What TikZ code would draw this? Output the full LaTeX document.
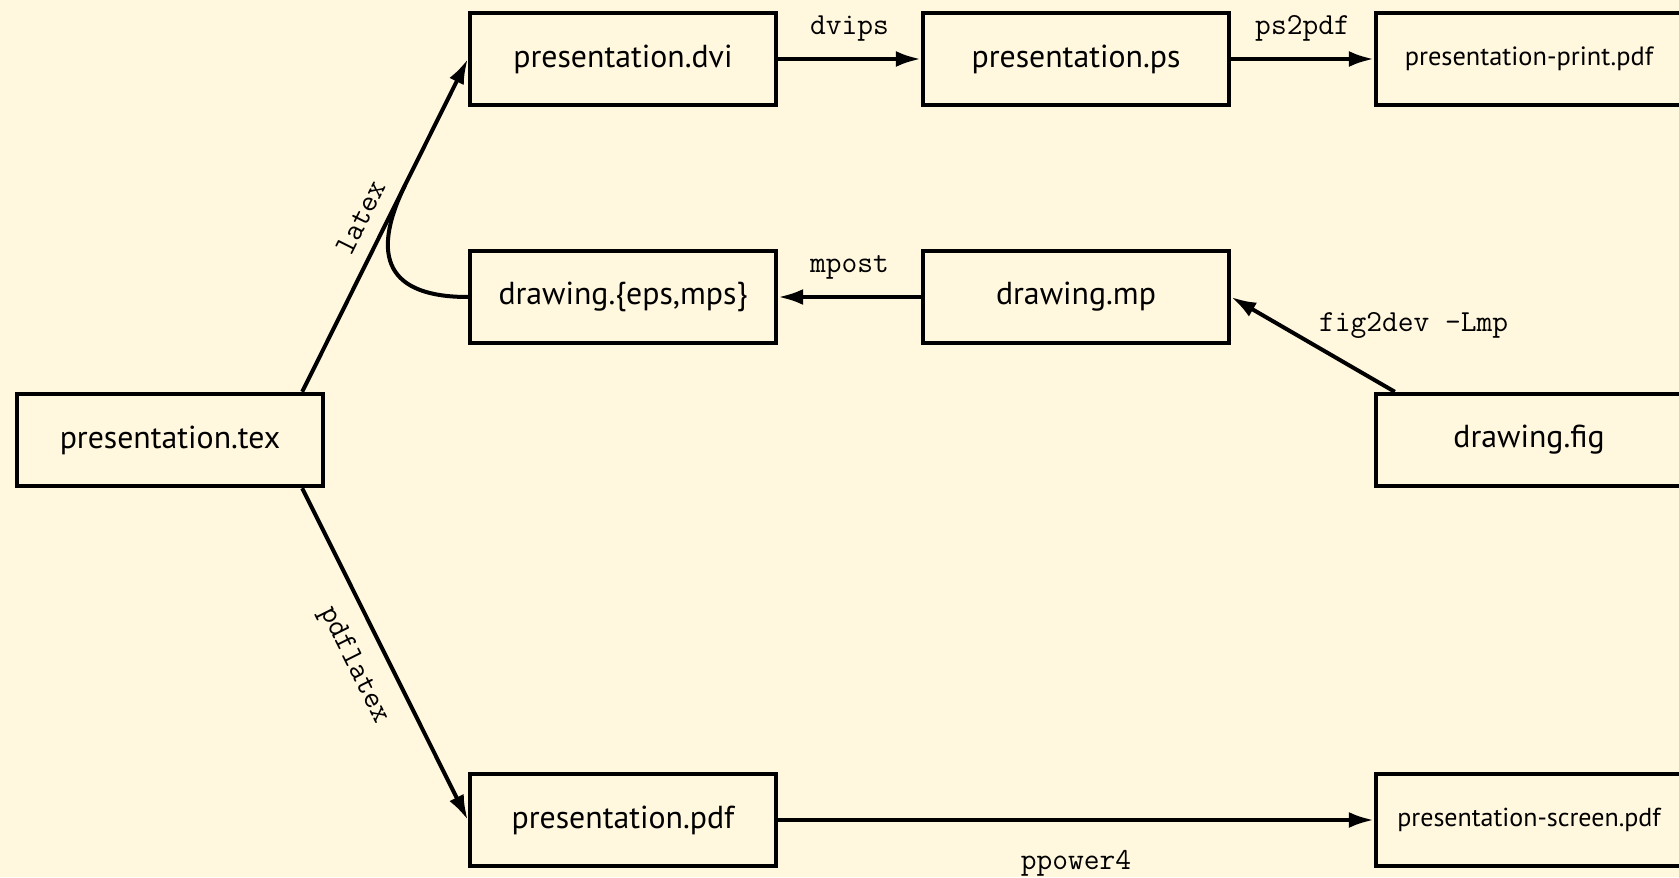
\documentclass[tikz,border=0pt]{standalone}
\usepackage{fontspec}
\setmainfont{PT Sans}
\usetikzlibrary{arrows.meta,calc}
\definecolor{bgc}{RGB}{255,247,222}
\tikzset{
  box/.style={draw, line width=2.2pt, minimum width=153pt, minimum height=46pt, inner sep=0pt,
    font=\fontsize{15.9}{18}\selectfont},
  smallbox/.style={box, font=\fontsize{13.2}{16}\selectfont},
  midbox/.style={box, font=\fontsize{13}{16}\selectfont},
  conn/.style={line width=2pt, -{Latex[length=12.5pt,width=8pt]}},
  plain/.style={line width=2pt},
  lbl/.style={font=\ttfamily\fontsize{15.3}{18}\selectfont, inner sep=3pt}
}
\begin{document}
\begin{tikzpicture}[x=0.5pt,y=0.5pt]
\fill[bgc] (0,0) rectangle (1679,-877);
\useasboundingbox (0,0) rectangle (1679,-877);
\node[box] (tex) at (170,-440) {presentation.tex};
\node[box] (dvi) at (623,-59) {presentation.dvi};
\node[box] (ps) at (1076,-59) {presentation.ps};
\node[smallbox] (print) at (1529,-59) {presentation-print.pdf};
\node[box] (eps) at (623,-297) {drawing.\{eps,mps\}};
\node[box] (mp) at (1076,-297) {drawing.mp};
\node[box] (fig) at (1529,-440) {drawing.fig};
\node[box] (pdf) at (623,-820) {presentation.pdf};
\node[midbox] (screen) at (1529,-820) {presentation-screen.pdf};

\coordinate (ts) at ([xshift=-11.5pt]tex.north east);
\coordinate (tb) at ([xshift=-11.5pt]tex.south east);
\coordinate (fs) at ([xshift=10.5pt]fig.north west);
\coordinate (j) at ($(ts)!0.62!(dvi.west)$);

\draw[conn] (ts) -- node[lbl, sloped, above=4pt, pos=0.49] {latex} (dvi.west);
\draw[plain] (eps.west) .. controls +(-80,0) and +(-35,-72) .. (j);
\draw[conn] (tb) -- node[lbl, sloped, below=6pt, pos=0.49] {pdflatex} (pdf.west);
\draw[conn] (dvi.east) -- node[lbl, above=5pt] {dvips} (ps.west);
\draw[conn] (ps.east) -- node[lbl, above=5pt] {ps2pdf} (print.west);
\draw[conn] (mp.west) -- node[lbl, above=5pt] {mpost} (eps.east);
\draw[conn] (fs) -- node[lbl, pos=0.5, anchor=south west, inner sep=2pt] {fig2dev -Lmp} (mp.east);
\draw[conn] (pdf.east) -- node[lbl, below=11pt] {ppower4} (screen.west);
\end{tikzpicture}
\end{document}
